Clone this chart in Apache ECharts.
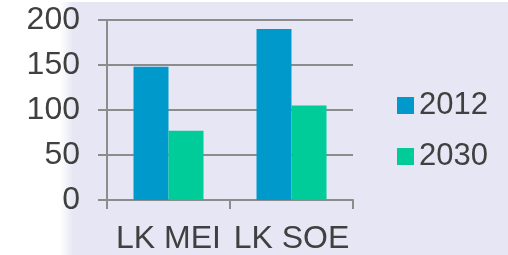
<!DOCTYPE html>
<html>
<head>
<meta charset="utf-8">
<script src="https://cdn.jsdelivr.net/npm/echarts@6/dist/echarts.min.js"></script>
<style>
  html, body { margin: 0; padding: 0; background: #fff; }
  #chart { width: 508px; height: 255px; }
</style>
</head>
<body>
<div id="chart"></div>
<script>
  // data
  const categories = ['LK MEI', 'LK SOE']
  const seriesNames = ['2012', '2030']
  const values2012 = [148, 190]
  const values2030 = [77, 105]
  const yTicks = [0, 50, 100, 150, 200]

  const mychart = echarts.init(document.getElementById('chart'))
  const font = 'Liberation Sans, Arial, sans-serif'
  const axisGray = '#8c8c8c'
  const textColor = '#404040'

  const options = {
    animation: false,
    graphic: [
      {
        type: 'rect',
        z: -10,
        shape: { x: 60, y: 2, width: 448, height: 253 },
        style: {
          fill: new echarts.graphic.LinearGradient(0, 0, 1, 0, [
            { offset: 0, color: '#ffffff' },
            { offset: 0.03, color: '#e6e6f4' },
            { offset: 1, color: '#e6e6f4' }
          ], false)
        },
        silent: true
      }
    ],
    grid: {
      left: 107,
      top: 20,
      width: 246,
      height: 180,
      containLabel: false
    },
    legend: {
      orient: 'vertical',
      left: 397,
      top: 90,
      padding: 0,
      itemWidth: 17,
      itemHeight: 17,
      itemGap: 20,
      icon: 'rect',
      textStyle: {
        fontSize: 31,
        fontFamily: font,
        color: textColor,
        lineHeight: 31
      },
      data: seriesNames
    },
    xAxis: {
      type: 'category',
      data: categories,
      axisLine: { lineStyle: { color: axisGray, width: 2 } },
      axisTick: { show: true, length: 9, lineStyle: { color: axisGray, width: 2 } },
      axisLabel: {
        interval: 0,
        fontSize: 32,
        fontFamily: font,
        color: textColor,
        margin: 23
      }
    },
    yAxis: {
      type: 'value',
      min: yTicks[0],
      max: yTicks[yTicks.length - 1],
      interval: 50,
      axisLine: { show: true, lineStyle: { color: axisGray, width: 2 } },
      axisTick: { show: true, length: 9, lineStyle: { color: axisGray, width: 2 } },
      splitLine: { lineStyle: { color: axisGray, width: 2 } },
      axisLabel: {
        fontSize: 32,
        fontFamily: font,
        color: textColor,
        margin: 27
      }
    },
    series: [
      {
        type: 'bar',
        name: seriesNames[0],
        data: values2012,
        barWidth: 35,
        barGap: '0%',
        itemStyle: { color: '#0099cc' }
      },
      {
        type: 'bar',
        name: seriesNames[1],
        data: values2030,
        barWidth: 35,
        itemStyle: { color: '#00cc99' }
      }
    ]
  }
  mychart.setOption(options)
</script>
</body>
</html>
